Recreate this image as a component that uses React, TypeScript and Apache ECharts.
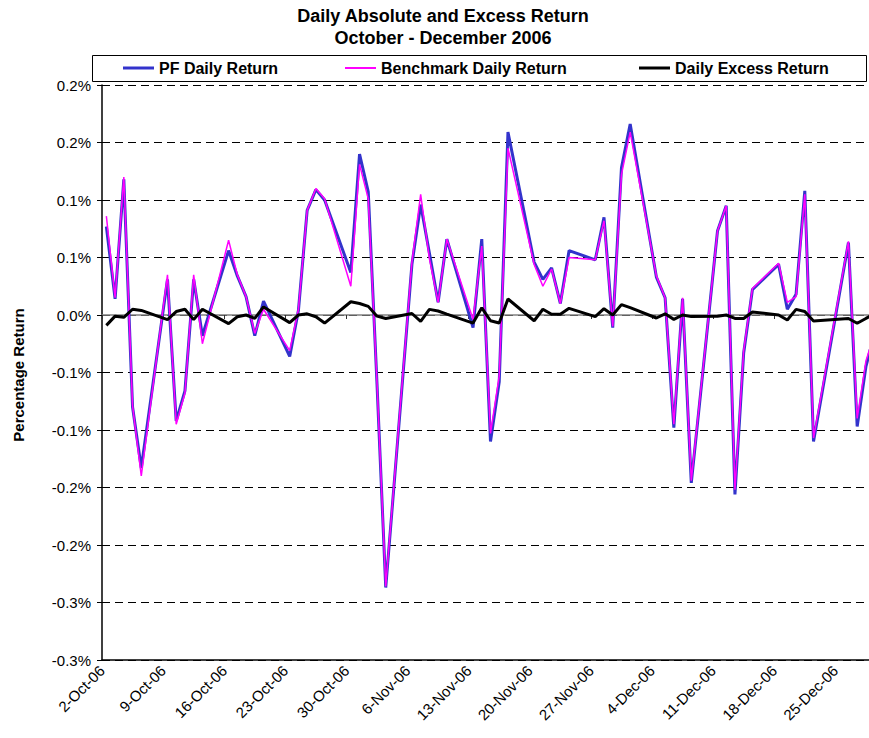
import React, { useEffect, useRef } from 'react';
import * as echarts from 'echarts';

const dates = [
  '2006-10-02', '2006-10-03', '2006-10-04', '2006-10-05', '2006-10-06',
  '2006-10-09', '2006-10-10', '2006-10-11', '2006-10-12', '2006-10-13',
  '2006-10-16', '2006-10-17', '2006-10-18', '2006-10-19', '2006-10-20',
  '2006-10-23', '2006-10-24', '2006-10-25', '2006-10-26', '2006-10-27',
  '2006-10-30', '2006-10-31', '2006-11-01', '2006-11-02', '2006-11-03',
  '2006-11-06', '2006-11-07', '2006-11-08', '2006-11-09', '2006-11-10',
  '2006-11-13', '2006-11-14', '2006-11-15', '2006-11-16', '2006-11-17',
  '2006-11-20', '2006-11-21', '2006-11-22', '2006-11-23', '2006-11-24',
  '2006-11-27', '2006-11-28', '2006-11-29', '2006-11-30', '2006-12-01',
  '2006-12-04', '2006-12-05', '2006-12-06', '2006-12-07', '2006-12-08',
  '2006-12-11', '2006-12-12', '2006-12-13', '2006-12-14', '2006-12-15',
  '2006-12-18', '2006-12-19', '2006-12-20', '2006-12-21', '2006-12-22',
  '2006-12-26', '2006-12-27', '2006-12-28', '2006-12-29',
];

// values in percent
const pfReturn = [
  0.077, 0.014, 0.118, -0.080, -0.133,
  0.031, -0.092, -0.066, 0.031, -0.018,
  0.056, 0.034, 0.016, -0.018, 0.012,
  -0.036, 0.004, 0.091, 0.109, 0.100,
  0.037, 0.140, 0.107, -0.060, -0.237,
  0.044, 0.096, 0.054, 0.011, 0.066,
  -0.011, 0.066, -0.110, -0.058, 0.159,
  0.046, 0.031, 0.041, 0.010, 0.056,
  0.048, 0.085, -0.011, 0.128, 0.166,
  0.033, 0.015, -0.098, 0.014, -0.146,
  0.073, 0.095, -0.156, -0.033, 0.022,
  0.044, 0.005, 0.018, 0.108, -0.110,
  0.063, -0.097, -0.045, -0.015,
];

const benchmarkReturn = [
  0.086, 0.015, 0.120, -0.079, -0.140,
  0.035, -0.095, -0.068, 0.035, -0.025,
  0.065, 0.035, 0.016, -0.016, 0.005,
  -0.031, 0.005, 0.091, 0.110, 0.101,
  0.025, 0.131, 0.101, -0.059, -0.236,
  0.046, 0.105, 0.049, 0.011, 0.066,
  -0.004, 0.060, -0.103, -0.053, 0.145,
  0.044, 0.025, 0.040, 0.010, 0.050,
  0.048, 0.082, -0.010, 0.122, 0.159,
  0.034, 0.015, -0.095, 0.015, -0.144,
  0.073, 0.095, -0.152, -0.031, 0.023,
  0.045, 0.011, 0.016, 0.105, -0.107,
  0.064, -0.090, -0.040, -0.016,
];

const excessReturn = [
  -0.009, -0.001, -0.002, 0.005, 0.004,
  -0.004, 0.003, 0.005, -0.004, 0.005,
  -0.0075, -0.0015, 0.000, -0.003, 0.007,
  -0.0066, 0.000, 0.001, -0.0015, -0.007,
  0.0115, 0.010, 0.0075, -0.001, -0.003,
  0.0013, -0.0055, 0.0049, 0.0035, 0.0008,
  -0.007, 0.0062, -0.005, -0.007, 0.014,
  -0.005, 0.005, 0.0006, 0.0006, 0.0058,
  -0.0014, 0.0055, 0.000, 0.009, 0.0064,
  -0.0026, 0.001, -0.0038, 0.000, -0.0014,
  -0.001, 0.000, -0.003, -0.003, 0.0026,
  0.000, -0.0043, 0.0049, 0.003, -0.0052,
  -0.003, -0.0072, -0.003, 0.001,
];

const xTickLabels = [
  '2-Oct-06', '9-Oct-06', '16-Oct-06', '23-Oct-06', '30-Oct-06', '6-Nov-06',
  '13-Nov-06', '20-Nov-06', '27-Nov-06', '4-Dec-06', '11-Dec-06', '18-Dec-06', '25-Dec-06',
];

// bottom to top
const yTickLabels = [
  '-0.3%', '-0.3%', '-0.2%', '-0.2%', '-0.1%', '-0.1%',
  '0.0%', '0.1%', '0.1%', '0.2%', '0.2%',
];

const seriesNames = ['PF Daily Return', 'Benchmark Daily Return', 'Daily Excess Return'];

const START = Date.UTC(2006, 9, 2);
const dayPos = (s: string) => {
  const [y, m, d] = s.split('-').map(Number);
  return (Date.UTC(y, m - 1, d) - START) / 86400000 + 0.5;
};

const FONT = "'Liberation Sans', Arial, sans-serif";

export default function App() {
  const ref = useRef<HTMLDivElement>(null);
  useEffect(() => {
    const chart = echarts.init(ref.current as HTMLDivElement, null, { renderer: 'svg' });
    const xs = dates.map(dayPos);
    const pair = (arr: number[]) => xs.map((x, i) => [x, arr[i]]);
    const legendText = { fontFamily: FONT, fontSize: 16, fontWeight: 'bold', color: '#000' };
    chart.setOption({
      animation: false,
      backgroundColor: '#ffffff',
      textStyle: { fontFamily: FONT },
      grid: { left: 102, top: 85, width: 777, height: 575, containLabel: false },
      legend: [
        { data: [seriesNames[0]], left: 123, top: 60, padding: 0, icon: 'rect', itemWidth: 31, itemHeight: 3, textStyle: legendText },
        { data: [seriesNames[1]], left: 345, top: 60, padding: 0, icon: 'rect', itemWidth: 31, itemHeight: 2, textStyle: legendText },
        { data: [seriesNames[2]], left: 639, top: 60, padding: 0, icon: 'rect', itemWidth: 31, itemHeight: 3, textStyle: legendText },
      ],
      xAxis: [
        {
          type: 'value', min: 0, max: 89, interval: 7, position: 'top',
          axisLine: { show: true, onZero: true, lineStyle: { color: '#808080', width: 1.5 } },
          axisTick: { show: true, inside: true, length: 4, lineStyle: { color: '#303030', width: 1 } },
          axisLabel: { show: false },
          splitLine: { show: false },
        },
        {
          type: 'value', min: 0, max: 89, interval: 7, position: 'bottom',
          axisLine: { show: true, onZero: false, lineStyle: { color: '#000', width: 1.5 } },
          axisTick: { show: false },
          axisLabel: {
            rotate: 45, fontSize: 15, color: '#000', margin: 8, fontFamily: FONT,
            showMaxLabel: false,
            formatter: (v: number) => {
              const k = v / 7;
              if (Math.abs(k - Math.round(k)) > 1e-6) return '';
              return xTickLabels[Math.round(k)] ?? '';
            },
          },
          splitLine: { show: false },
        },
      ],
      yAxis: {
        type: 'value', min: -0.3, max: 0.2, interval: 0.05,
        axisLine: { show: true, onZero: false, lineStyle: { color: '#000', width: 1.5 } },
        axisTick: { show: true, length: 5, lineStyle: { color: '#000', width: 1 } },
        axisLabel: {
          fontSize: 15, color: '#000', margin: 11, fontFamily: FONT,
          formatter: (v: number) => yTickLabels[Math.round((v + 0.3) / 0.05)] ?? '',
        },
        splitLine: { show: true, lineStyle: { color: '#000', width: 1, type: [8, 5] } },
      },
      graphic: [
        {
          type: 'rect', z: 0,
          shape: { x: 92.5, y: 55.5, width: 774, height: 26 },
          style: { fill: '#fff', stroke: '#000', lineWidth: 1 },
        },
        {
          type: 'text', x: 443, y: 16,
          style: { text: 'Daily Absolute and Excess Return', fontSize: 18, fontWeight: 'bold', fontFamily: FONT, fill: '#000', align: 'center', verticalAlign: 'middle' },
        },
        {
          type: 'text', x: 443, y: 38,
          style: { text: 'October - December 2006', fontSize: 18, fontWeight: 'bold', fontFamily: FONT, fill: '#000', align: 'center', verticalAlign: 'middle' },
        },
        {
          type: 'text', x: 18, y: 375, rotation: Math.PI / 2,
          style: { text: 'Percentage Return', fontSize: 15, fontWeight: 'bold', fontFamily: FONT, fill: '#000', align: 'center', verticalAlign: 'middle' },
        },
      ],
      series: [
        {
          name: seriesNames[0], type: 'line', xAxisIndex: 1, data: pair(pfReturn),
          symbol: 'none', lineStyle: { color: '#3333CC', width: 3 }, itemStyle: { color: '#3333CC' }, z: 2,
        },
        {
          name: seriesNames[1], type: 'line', xAxisIndex: 1, data: pair(benchmarkReturn),
          symbol: 'none', lineStyle: { color: '#FF00FF', width: 1.5 }, itemStyle: { color: '#FF00FF' }, z: 3,
        },
        {
          name: seriesNames[2], type: 'line', xAxisIndex: 1, data: pair(excessReturn),
          symbol: 'none', lineStyle: { color: '#000000', width: 3 }, itemStyle: { color: '#000000' }, z: 4,
        },
      ],
    });
    return () => chart.dispose();
  }, []);
  return (
    <div style={{ position: 'absolute', left: 0, top: 0, width: 869, height: 738, overflow: 'hidden' }}>
      <div ref={ref} style={{ position: 'absolute', left: 0, top: 0, width: 890, height: 738 }} />
    </div>
  );
}
